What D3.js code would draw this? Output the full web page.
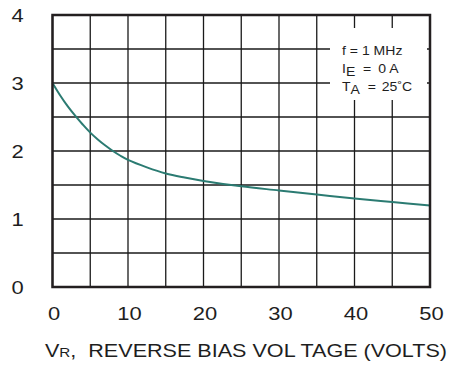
<!DOCTYPE html>
<html>
<head>
<meta charset="utf-8">
<script src="https://cdn.jsdelivr.net/npm/d3@7"></script>
<style>
  body { margin: 0; background: #fff; }
  text { font-family: "Liberation Sans", Arial, sans-serif; fill: #1e1e1e; }
</style>
</head>
<body>
<div id="chart"></div>
<script>
"use strict";

// capacitance curve
var voltage = [0, 1, 2, 3, 4, 5, 6, 7, 8, 9, 10, 12.5, 15, 17.5, 20, 25, 30, 35, 40, 45, 50];
var capacitance = [3.0, 2.82, 2.66, 2.52, 2.39, 2.27, 2.17, 2.08, 2.0, 1.93, 1.87, 1.76, 1.67, 1.61, 1.56, 1.48, 1.42, 1.36, 1.30, 1.25, 1.20];

var xTicks = [0, 10, 20, 30, 40, 50];
var yTicks = [0, 1, 2, 3, 4];
var xGrid = d3.range(0, 50.1, 5);
var yGrid = d3.range(0, 4.01, 0.5);

var W = 452, H = 371;
var m = { left: 52.5, right: 22, top: 15, bottom: 84 };
var sx = 1.22; // the original lettering is wide

var svg = d3.select("#chart").append("svg")
    .attr("width", W)
    .attr("height", H);

var x = d3.scaleLinear().domain([0, 50]).range([m.left, W - m.right]);
var y = d3.scaleLinear().domain([0, 4]).range([H - m.bottom, m.top]);

// grid
svg.append("g").selectAll("line")
    .data(xGrid)
    .join("line")
    .attr("x1", function (d) { return x(d); })
    .attr("x2", function (d) { return x(d); })
    .attr("y1", y(0))
    .attr("y2", y(4))
    .attr("stroke", "#1a1a1a")
    .attr("stroke-width", 1.3);

svg.append("g").selectAll("line")
    .data(yGrid)
    .join("line")
    .attr("y1", function (d) { return y(d); })
    .attr("y2", function (d) { return y(d); })
    .attr("x1", x(0))
    .attr("x2", x(50))
    .attr("stroke", "#1a1a1a")
    .attr("stroke-width", 1.3);

// legend box (covers grid)
svg.append("rect")
    .attr("x", 330).attr("y", 28)
    .attr("width", 97).attr("height", 72)
    .attr("fill", "#fff");

var lg = svg.append("g")
    .attr("transform", "translate(342,0) scale(1.17,1)");

lg.append("text").attr("x", 0).attr("y", 55).style("font-size", "12px")
    .text("f = 1 MHz");

var t2 = lg.append("text").attr("x", 0).attr("y", 73).style("font-size", "12px");
t2.append("tspan").text("I");
t2.append("tspan").attr("dy", 3).text("E");
t2.append("tspan").attr("dy", -3).attr("x", 18).text("=");
t2.append("tspan").attr("x", 31).text("0 A");

var t3 = lg.append("text").attr("x", 0).attr("y", 91).style("font-size", "12px");
t3.append("tspan").text("T");
t3.append("tspan").attr("dy", 3).text("A");
t3.append("tspan").attr("dy", -3).attr("x", 22).text("=");
t3.append("tspan").attr("x", 34).text("25\u02DAC");

// curve
var line = d3.line()
    .x(function (d, i) { return x(voltage[i]); })
    .y(function (d) { return y(d); })
    .curve(d3.curveCatmullRom.alpha(0.5));

svg.append("path")
    .datum(capacitance)
    .attr("d", line)
    .attr("fill", "none")
    .attr("stroke", "#2b7b72")
    .attr("stroke-width", 2);

// frame
svg.append("rect")
    .attr("x", x(0)).attr("y", y(4))
    .attr("width", x(50) - x(0))
    .attr("height", y(0) - y(4))
    .attr("fill", "none")
    .attr("stroke", "#231f20")
    .attr("stroke-width", 2.5);

// tick labels
svg.append("g").selectAll("text")
    .data(yTicks)
    .join("text")
    .attr("transform", function (d) {
        return "translate(17.5," + (y(d) + 6.5) + ") scale(" + sx + ",1)";
    })
    .attr("text-anchor", "middle")
    .style("font-size", "18px")
    .text(function (d) { return d; });

svg.append("g").selectAll("text")
    .data(xTicks)
    .join("text")
    .attr("transform", function (d) {
        return "translate(" + (x(d) + 1.5) + ",319.5) scale(" + sx + ",1)";
    })
    .attr("text-anchor", "middle")
    .style("font-size", "18px")
    .text(function (d) { return d; });

// axis title
var title = svg.append("text")
    .attr("x", 45)
    .attr("y", 357)
    .attr("textLength", 402)
    .attr("lengthAdjust", "spacingAndGlyphs")
    .style("font-size", "18.5px");
title.append("tspan").text("V");
title.append("tspan").style("font-size", "13px").text("R");
title.append("tspan").text(",\u00A0\u00A0REVERSE BIAS VOL TAGE (VOLTS)");
</script>
</body>
</html>
